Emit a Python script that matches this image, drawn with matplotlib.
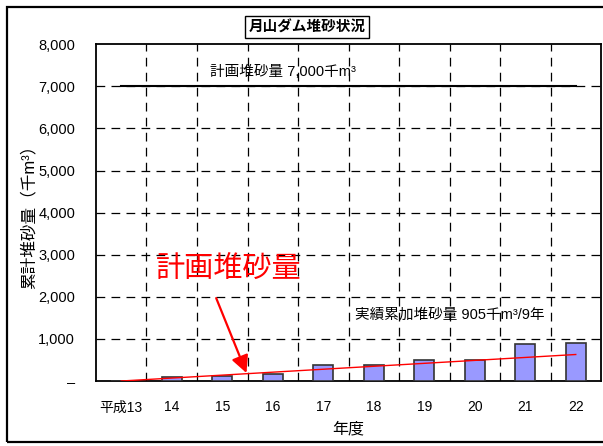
import numpy as np
import matplotlib.pyplot as plt
from matplotlib.patches import Rectangle

plt.rcParams['font.family'] = ['Liberation Sans', 'Noto Sans CJK JP']

# data
years = ['平成13', '14', '15', '16', '17', '18', '19', '20', '21', '22']
actual = [0, 90, 120, 160, 370, 385, 490, 495, 870, 905]       # 実績累加堆砂量
plan_line = [0, 70, 140, 210, 280, 350, 420, 490, 560, 630]     # 計画堆砂量 (per year)
plan_total = [7000] * 10                                       # 計画堆砂量 7,000
yticks = [0, 1000, 2000, 3000, 4000, 5000, 6000, 7000, 8000]
ytick_labels = ['–', '1,000', '2,000', '3,000', '4,000', '5,000', '6,000', '7,000', '8,000']

fig = plt.figure(figsize=(6.03, 4.46), dpi=100)
ax = fig.add_axes([0.1592, 0.1457, 0.8375, 0.755])

x = np.arange(len(years))
ax.bar(x, actual, width=0.4, color='#9999ff', edgecolor='#333333', linewidth=1.2, zorder=3)
ax.plot(x, plan_line, color='red', lw=1.0, zorder=4)
ax.plot(x, plan_total, color='black', lw=1.5, zorder=4)

ax.set_xlim(-0.5, len(years) - 0.5)
ax.set_ylim(0, 8000)
ax.set_yticks(yticks)
ax.set_yticklabels(ytick_labels, fontsize=10.5)
ax.set_xticks(x)
ax.set_xticklabels(years, fontsize=10)
ax.tick_params(axis='x', length=0, pad=14)
ax.tick_params(axis='y', length=0, pad=15)

# grid: horizontal at each 1000, vertical between categories
for yv in yticks[1:-1]:
    ax.axhline(yv, color='black', lw=0.9, ls=(0, (7, 5)), zorder=1)
for xb in x[:-1] + 0.5:
    ax.axvline(xb, color='black', lw=0.9, ls=(0, (7, 5)), zorder=1)

for s in ax.spines.values():
    s.set_linewidth(1.3)

ax.set_xlabel('年度', fontsize=11.5, labelpad=5)
ax.set_ylabel('累計堆砂量（千m³）', fontsize=12)
ax.yaxis.set_label_coords(-0.117, 0.5)

ax.text(3.2, 7340, '計画堆砂量 7,000千m³', fontsize=10.5, ha='center', va='center')
ax.text(6.5, 1570, '実績累加堆砂量 905千m³/9年', fontsize=10.5, ha='center', va='center')
ax.text(2.12, 2640, '計画堆砂量', fontsize=21, color='red', ha='center', va='center')
ax.annotate('', xy=(2.48, 190), xytext=(1.88, 1970),
            arrowprops=dict(arrowstyle='-|>', color='red', lw=1.6,
                            mutation_scale=26, shrinkA=0, shrinkB=0))

fig.text(0.509, 0.939, '月山ダム堆砂状況', fontsize=10.5, fontweight='bold',
         ha='center', va='center',
         bbox=dict(boxstyle='square,pad=0.25', fc='white', ec='black', lw=1.0))

fig.patches.append(Rectangle((0.0116, 0.009), 1.2, 0.975, transform=fig.transFigure,
                             fill=False, ec='black', lw=1.6))

fig.savefig('out.png', dpi=100)
